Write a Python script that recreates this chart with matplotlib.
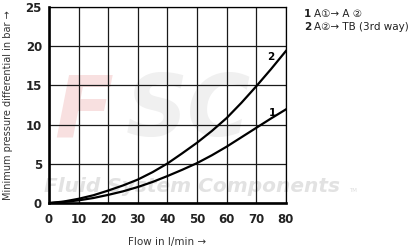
import matplotlib.pyplot as plt

flow = [0, 5, 10, 15, 20, 25, 30, 35, 40, 45, 50, 55, 60, 65, 70, 75, 80]
curve1 = [0, 0.15, 0.35, 0.65, 1.05, 1.5, 2.05, 2.7, 3.45, 4.25, 5.1, 6.1, 7.2, 8.4, 9.6, 10.8, 11.95]
curve2 = [0, 0.2, 0.55, 1.0, 1.6, 2.25, 3.0, 3.95, 5.05, 6.35, 7.7, 9.2, 10.85, 12.8, 14.9, 17.1, 19.4]

xticks = [0, 10, 20, 30, 40, 50, 60, 70, 80]
yticks = [0, 5, 10, 15, 20, 25]

plt.rcParams['font.family'] = ['DejaVu Sans', 'Noto Sans CJK JP']

fig = plt.figure(figsize=(4.18, 2.52), dpi=100)
ax = fig.add_axes([0.117, 0.194, 0.567, 0.778])

# watermark, behind the grid
ax.text(0.13, 0.46, "F", transform=fig.transFigure, fontsize=62, fontweight='bold',
        fontstyle='italic', color='#f8e0e0', zorder=0.2)
ax.text(0.30, 0.46, "SC", transform=fig.transFigure, fontsize=62, fontweight='bold',
        fontstyle='italic', color='#f0f0f0', zorder=0.2)
ax.text(0.105, 0.24, "Fluid System Components", transform=fig.transFigure, fontsize=14.5,
        fontweight='bold', fontstyle='italic', color='#e2e2e2', zorder=0.3)
ax.text(0.835, 0.24, "TM", transform=fig.transFigure, fontsize=4, color='#dddddd', zorder=0.3)

ax.plot(flow, curve1, color='black', lw=1.6, zorder=3)
ax.plot(flow, curve2, color='black', lw=1.6, zorder=3)

ax.text(75.3, 11.5, "1", fontsize=7.5, fontweight='bold', ha='center', va='center', zorder=4)
ax.text(75.0, 18.6, "2", fontsize=7.5, fontweight='bold', ha='center', va='center', zorder=4)

ax.set_xlim(0, 80)
ax.set_ylim(0, 25)
ax.set_xticks(xticks)
ax.set_yticks(yticks)
ax.tick_params(length=0, labelsize=8.5)
ax.tick_params(axis='x', pad=7)
ax.tick_params(axis='y', pad=5)
for lab in ax.get_xticklabels() + ax.get_yticklabels():
    lab.set_fontweight('bold')
    lab.set_color('#222222')
ax.grid(True, color='#1a1a1a', lw=0.9, zorder=0.5)
ax.set_axisbelow(True)
ax.patch.set_alpha(0)
for s in ['top', 'right']:
    ax.spines[s].set_linewidth(0.9)
for s in ['left', 'bottom']:
    ax.spines[s].set_linewidth(1.9)

ax.set_xlabel("Flow in l/min →", fontsize=7.5, color='#333333', labelpad=8)
ax.set_ylabel("Minimum pressure differential in bar →", fontsize=7, color='#333333', labelpad=9)

fig.text(0.727, 0.944, "1", fontsize=7.5, fontweight='bold', color='#222222', va='center')
fig.text(0.752, 0.944, "A①→ A ②", fontsize=7.5, color='#222222', va='center')
fig.text(0.727, 0.893, "2", fontsize=7.5, fontweight='bold', color='#222222', va='center')
fig.text(0.752, 0.893, "A②→ TB (3rd way)", fontsize=7.5, color='#222222', va='center')

fig.savefig("out.png", dpi=100)
